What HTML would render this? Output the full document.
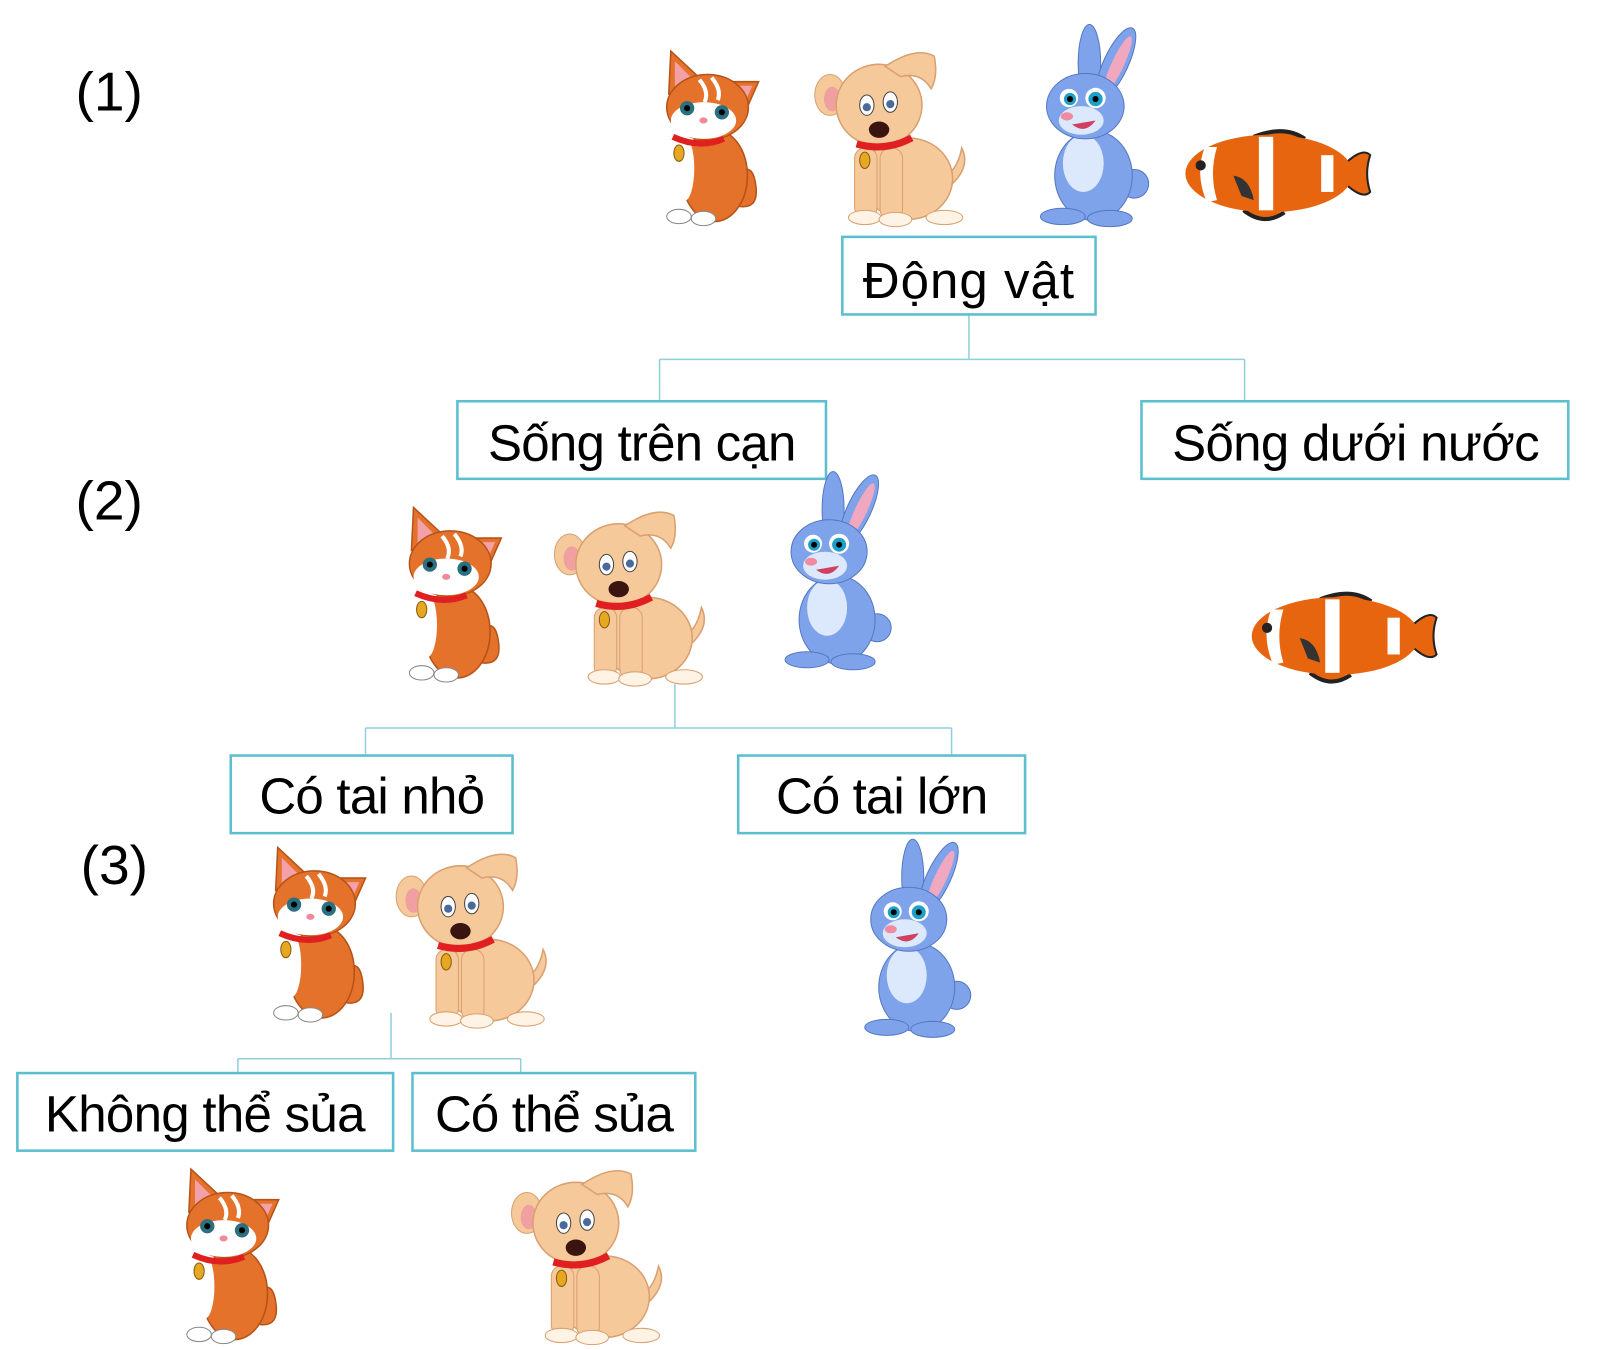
<!DOCTYPE html>
<html><head><meta charset="utf-8"><style>html,body{margin:0;padding:0;background:#fff;width:1600px;height:1350px;overflow:hidden}</style></head>
<body>
<svg width="1600" height="1350" viewBox="0 0 1600 1350" xmlns="http://www.w3.org/2000/svg">
<defs>
<g id="cat">
 <path d="M70 150 Q100 160 95 130 Q92 110 80 118" fill="#e5722a" stroke="#b55218" stroke-width="1.5"/>
 <ellipse cx="55" cy="122" rx="32" ry="45" fill="#e5722a" stroke="#b55218" stroke-width="1.5"/>
 <ellipse cx="25" cy="115" rx="10" ry="32" fill="#fff"/>
 <polygon points="10,42 12,0 42,28" fill="#e5722a" stroke="#b55218" stroke-width="1.5"/>
 <polygon points="16,36 16,10 34,28" fill="#f4a0a8"/>
 <polygon points="66,30 98,30 82,66" fill="#e5722a" stroke="#b55218" stroke-width="1.5"/>
 <polygon points="72,34 92,34 82,56" fill="#f4a0a8"/>
 <ellipse cx="48" cy="55" rx="40" ry="32" fill="#e5722a" stroke="#b55218" stroke-width="1.5"/>
 <ellipse cx="44" cy="68" rx="32" ry="18" fill="#fff"/>
 <path d="M40 28 Q50 40 45 50 M52 26 Q62 38 58 48" stroke="#fff" stroke-width="4" fill="none"/>
 <circle cx="28" cy="56" r="7" fill="#2a7080"/><circle cx="28" cy="56" r="3" fill="#000"/>
 <circle cx="62" cy="60" r="7" fill="#2a7080"/><circle cx="62" cy="60" r="3" fill="#000"/>
 <ellipse cx="44" cy="68" rx="4" ry="3" fill="#f08a9a"/>
 <path d="M14 84 Q40 96 64 86" stroke="#e02020" stroke-width="6" fill="none"/>
 <ellipse cx="20" cy="100" rx="5" ry="8" fill="#e6a820" stroke="#8a5a10"/>
 <ellipse cx="20" cy="162" rx="12" ry="7" fill="#fff" stroke="#888"/>
 <ellipse cx="44" cy="164" rx="12" ry="7" fill="#fff" stroke="#888"/>
</g>
<g id="dog">
 <path d="M130 140 Q155 120 145 100 Q140 125 125 128Z" fill="#f6c99a" stroke="#d9a070" stroke-width="1.5"/>
 <ellipse cx="92" cy="130" rx="44" ry="40" fill="#f6c99a" stroke="#d9a070" stroke-width="1.5"/>
 <rect x="40" y="100" width="22" height="68" rx="10" fill="#f6c99a" stroke="#d9a070"/>
 <rect x="65" y="100" width="22" height="70" rx="10" fill="#f6c99a" stroke="#d9a070"/>
 <ellipse cx="50" cy="168" rx="16" ry="7" fill="#fff3e6" stroke="#d9a070"/>
 <ellipse cx="80" cy="170" rx="16" ry="7" fill="#fff3e6" stroke="#d9a070"/>
 <ellipse cx="128" cy="168" rx="18" ry="7" fill="#fff3e6" stroke="#d9a070"/>
 <ellipse cx="16" cy="48" rx="15" ry="20" fill="#f6c99a" stroke="#d9a070"/>
 <ellipse cx="18" cy="52" rx="8" ry="12" fill="#f0a0a0"/>
 <ellipse cx="64" cy="58" rx="42" ry="40" fill="#f6c99a" stroke="#d9a070" stroke-width="1.5"/>
 <path d="M70 20 Q100 0 118 10 Q122 30 115 42 Q105 25 85 30Z" fill="#f6c99a" stroke="#d9a070" stroke-width="1.5"/>
 <ellipse cx="52" cy="58" rx="7" ry="10" fill="#fff" stroke="#444"/><circle cx="52" cy="60" r="4" fill="#4a6a9a"/>
 <ellipse cx="75" cy="55" rx="7" ry="10" fill="#fff" stroke="#444"/><circle cx="75" cy="57" r="4" fill="#4a6a9a"/>
 <ellipse cx="64" cy="82" rx="10" ry="8" fill="#3a1410"/>
 <path d="M42 96 Q70 104 96 90" stroke="#e02020" stroke-width="7" fill="none"/>
 <ellipse cx="50" cy="112" rx="5" ry="8" fill="#e6a820" stroke="#8a5a10"/>
</g>
<g id="rab">
 <ellipse cx="52" cy="40" rx="11" ry="38" fill="#7fa3ea" stroke="#5577c0"/>
 <g transform="rotate(25 78 40)"><ellipse cx="78" cy="40" rx="12" ry="38" fill="#7fa3ea" stroke="#5577c0"/><ellipse cx="80" cy="40" rx="6" ry="30" fill="#f0a8c0"/></g>
 <circle cx="96" cy="158" r="14" fill="#7fa3ea" stroke="#5577c0"/>
 <ellipse cx="56" cy="150" rx="38" ry="44" fill="#7fa3ea" stroke="#5577c0"/>
 <ellipse cx="46" cy="138" rx="20" ry="28" fill="#dce8fb"/>
 <ellipse cx="48" cy="82" rx="38" ry="32" fill="#7fa3ea" stroke="#5577c0"/>
 <ellipse cx="44" cy="96" rx="22" ry="14" fill="#dce8fb"/>
 <circle cx="32" cy="74" r="9" fill="#fff"/><circle cx="33" cy="75" r="6" fill="#1ea0c8"/><circle cx="33" cy="75" r="3" fill="#000"/>
 <circle cx="58" cy="74" r="10" fill="#fff"/><circle cx="58" cy="75" r="7" fill="#1ea0c8"/><circle cx="58" cy="75" r="3" fill="#000"/>
 <ellipse cx="30" cy="92" rx="6" ry="4" fill="#f08aa0"/>
 <path d="M35 100 Q48 110 58 96" fill="#d04060"/>
 <ellipse cx="26" cy="190" rx="22" ry="8" fill="#7fa3ea" stroke="#5577c0"/>
 <ellipse cx="72" cy="192" rx="22" ry="8" fill="#7fa3ea" stroke="#5577c0"/>
</g>
<g id="fish">
 <path d="M150 48 Q175 20 184 30 Q178 48 184 66 Q175 76 150 48Z" fill="#e8650f" stroke="#222" stroke-width="2"/>
 <path d="M70 12 Q100 0 120 14" fill="#e8650f" stroke="#222" stroke-width="4"/>
 <path d="M60 84 Q80 100 100 86" fill="#e8650f" stroke="#222" stroke-width="4"/>
 <ellipse cx="85" cy="48" rx="82" ry="38" fill="#e8650f"/>
 <path d="M22 22 Q12 48 24 76 L34 74 Q26 48 34 22Z" fill="#fff"/>
 <rect x="75" y="12" width="14" height="72" fill="#fff"/>
 <rect x="136" y="30" width="12" height="36" fill="#fff"/>
 <circle cx="18" cy="40" r="5" fill="#222"/>
 <path d="M50 50 Q66 52 70 74 L58 70Z" fill="#333"/>
</g>
</defs>
<g transform="scale(1.021)">
 <g font-family="Liberation Sans, Arial, sans-serif" fill="#000">
  <text x="74" y="108" font-size="54">(1)</text>
  <text x="74" y="509" font-size="54">(2)</text>
  <text x="79" y="866" font-size="54">(3)</text>
 </g>
 <g stroke="#90d0dc" stroke-width="1.5" fill="none">
  <path d="M949 308V352M646 352H1219M646 352V393M1219 352V393"/>
  <path d="M661 670V713M358 713H932M358 713V740M932 713V740"/>
  <path d="M383 992V1037M233 1037H510M233 1037V1051M510 1037V1051"/>
 </g>
 <g stroke="#5bbfd0" stroke-width="2.5" fill="#fff">
  <rect x="825" y="232" width="248" height="76"/>
  <rect x="448" y="393" width="361" height="76"/>
  <rect x="1118" y="393" width="418" height="76"/>
  <rect x="226" y="740" width="276" height="76"/>
  <rect x="723" y="740" width="281" height="76"/>
  <rect x="17" y="1051" width="368" height="76"/>
  <rect x="404" y="1051" width="277" height="76"/>
 </g>
 <g font-family="Liberation Sans, Arial, sans-serif" font-size="50" fill="#000" lengthAdjust="spacingAndGlyphs">
  <text x="845" y="292" textLength="207">Động vật</text>
  <text x="478" y="451" textLength="302">Sống trên cạn</text>
  <text x="1148" y="451" textLength="360">Sống dưới nước</text>
  <text x="254" y="797" textLength="221">Có tai nhỏ</text>
  <text x="760" y="797" textLength="208">Có tai lớn</text>
  <text x="44" y="1108" textLength="314">Không thể sủa</text>
  <text x="426" y="1108" textLength="234">Có thể sủa</text>
 </g>
 <use href="#cat" transform="translate(645,50)"/>
 <use href="#dog" transform="translate(797,45)"/>
 <use href="#rab" transform="translate(1015,22)"/>
 <use href="#fish" transform="translate(1158,122)"/>
 <use href="#cat" transform="translate(393,497)"/>
 <use href="#dog" transform="translate(542,495)"/>
 <use href="#rab" transform="translate(765,460) scale(0.98)"/>
 <use href="#fish" transform="translate(1223,575)"/>
 <use href="#cat" transform="translate(260,830)"/>
 <use href="#dog" transform="translate(387,830)"/>
 <use href="#rab" transform="translate(843,820) scale(0.98)"/>
 <use href="#cat" transform="translate(175,1145)"/>
 <use href="#dog" transform="translate(500,1140)"/>
</g>
</svg>
</body></html>
